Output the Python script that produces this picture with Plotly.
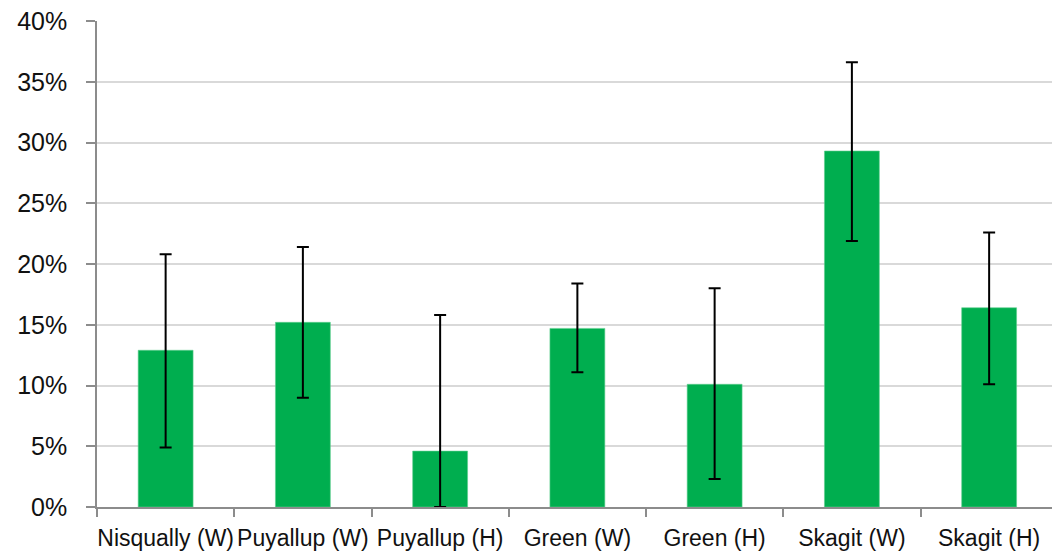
import plotly.graph_objects as go

# Share of fish by river and origin (W = wild, H = hatchery), with asymmetric confidence limits
rivers = ["Nisqually (W)", "Puyallup (W)", "Puyallup (H)", "Green (W)",
          "Green (H)", "Skagit (W)", "Skagit (H)"]
share_pct = [12.9, 15.2, 4.6, 14.7, 10.1, 29.3, 16.4]
upper_pct = [20.8, 21.4, 15.8, 18.4, 18.0, 36.6, 22.6]
lower_pct = [4.9, 9.0, 0.0, 11.1, 2.3, 21.9, 10.1]

err_plus = [u - v for u, v in zip(upper_pct, share_pct)]
err_minus = [v - l for v, l in zip(share_pct, lower_pct)]

fig = go.Figure(
    go.Bar(
        x=rivers,
        y=share_pct,
        width=0.4,
        marker=dict(color="#00AE4F", line=dict(color="#5fcf8f", width=0.6)),
        error_y=dict(
            type="data",
            symmetric=False,
            array=err_plus,
            arrayminus=err_minus,
            color="#000000",
            thickness=2,
            width=6,
        ),
    )
)

axis_grey = "#8c8c8c"
fig.update_layout(
    width=1052,
    height=558,
    margin=dict(l=97, r=0, t=21, b=51),
    paper_bgcolor="white",
    plot_bgcolor="white",
    showlegend=False,
    font=dict(family="Liberation Sans, Arial, sans-serif", color="#111111"),
    xaxis=dict(
        type="category",
        range=[-0.5, 6.458],
        tickson="boundaries",
        ticks="outside",
        ticklen=8,
        tickwidth=1.5,
        tickcolor=axis_grey,
        showline=True,
        linecolor=axis_grey,
        linewidth=1.5,
        showgrid=False,
        tickangle=0,
        tickfont=dict(size=23),
        ticklabelstandoff=10,
    ),
    yaxis=dict(
        range=[0, 40],
        dtick=5,
        ticksuffix="%",
        ticks="outside",
        ticklen=9,
        tickwidth=1.5,
        tickcolor=axis_grey,
        showline=True,
        linecolor=axis_grey,
        linewidth=1.5,
        showgrid=True,
        gridcolor="#d9d9d9",
        gridwidth=1.5,
        zeroline=False,
        tickfont=dict(size=25),
        ticklabelstandoff=14,
    ),
)

fig.write_html("out.html")
